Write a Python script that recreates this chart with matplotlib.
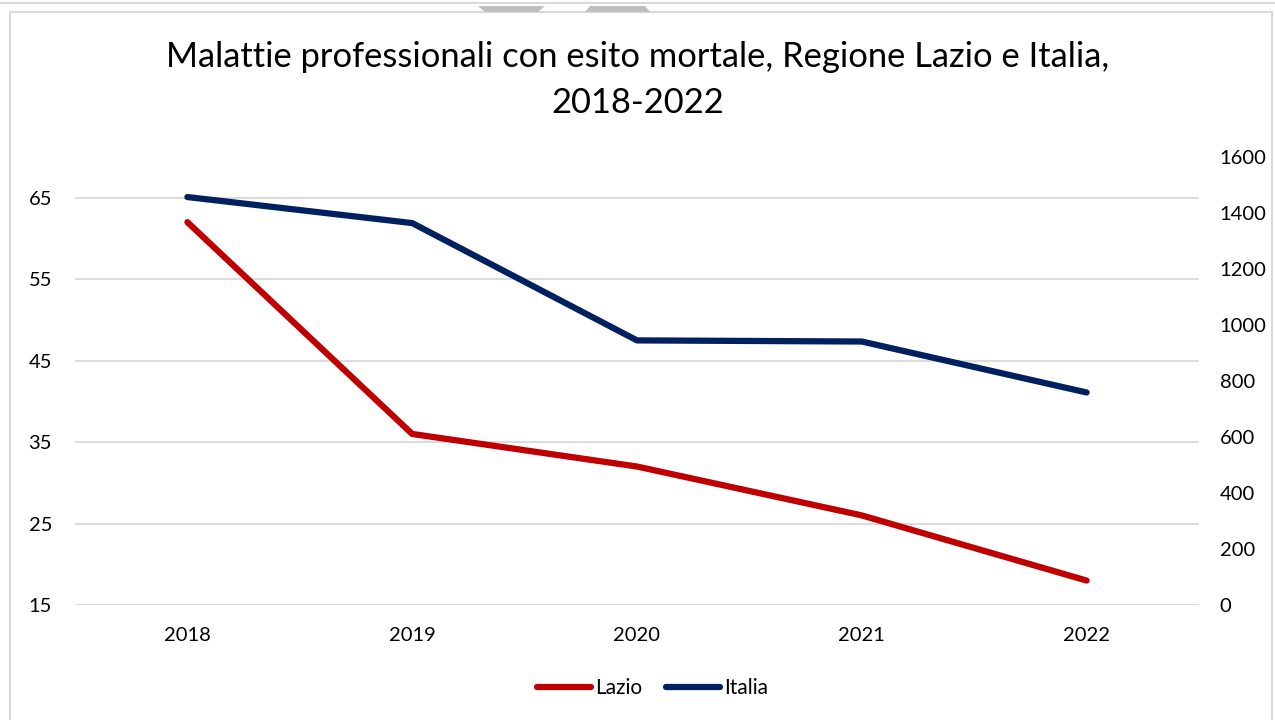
import matplotlib
matplotlib.use("Agg")
import matplotlib.pyplot as plt
from matplotlib.patches import Rectangle, Polygon
from matplotlib.lines import Line2D

years = ["2018", "2019", "2020", "2021", "2022"]
lazio = [62, 36, 32, 26, 18]
italia = [1457, 1364, 945, 941, 759]
left_ticks = [15, 25, 35, 45, 55, 65]
right_ticks = [0, 200, 400, 600, 800, 1000, 1200, 1400, 1600]

RED = "#C00000"
NAVY = "#002060"
FONT = "Lato"
plt.rcParams["font.family"] = [FONT, "DejaVu Sans"]

W, H = 1275, 720
fig = plt.figure(figsize=(W / 100, H / 100), dpi=100)

def rect(x0, y0, x1, y1):
    return [x0 / W, 1 - y1 / H, (x1 - x0) / W, (y1 - y0) / H]

# chart frame decorations
fig.patches.append(Rectangle((10 / W, -0.01), (1272 - 10) / W, 1 - 12 / H + 0.01,
                             transform=fig.transFigure, fill=False,
                             edgecolor="#D9D9D9", lw=1.5))
fig.lines.append(Line2D([0, 1], [1 - 3 / H, 1 - 3 / H], transform=fig.transFigure,
                        color="#D9D9D9", lw=1.5))
for pts in ([(478, 6), (545, 6), (538, 12), (485, 12)],
            [(585, 12), (650, 12), (645, 6), (590, 6)]):
    fig.patches.append(Polygon([(x / W, 1 - y / H) for x, y in pts],
                               transform=fig.transFigure, color="#BFBFBF", lw=0))

ax = fig.add_axes(rect(75, 157, 1199, 605))
ax2 = ax.twinx()

x = list(range(len(years)))
l1, = ax.plot(x, lazio, color=RED, lw=4.5, solid_capstyle="round",
              solid_joinstyle="round", label="Lazio", zorder=3)
l2, = ax2.plot(x, italia, color=NAVY, lw=4.5, solid_capstyle="round",
               solid_joinstyle="round", label="Italia", zorder=3)

ax.set_xlim(-0.5, len(years) - 0.5)
ax.set_ylim(15, 70)
ax2.set_ylim(0, 1600)
ax.set_yticks(left_ticks)
ax2.set_yticks(right_ticks)
ax.set_xticks(x)
ax.set_xticklabels(years)

ax.grid(axis="y", color="#D9D9D9", lw=1.3)
ax.set_axisbelow(True)
for a in (ax, ax2):
    for s in a.spines.values():
        s.set_visible(False)
    a.tick_params(length=0, labelsize=14.5, colors="#000000")
ax.tick_params(axis="y", pad=16.5)
ax2.tick_params(axis="y", pad=15)
ax.tick_params(axis="x", pad=16)

fig.text(0.5, 1 - 57 / H, "Malattie professionali con esito mortale, Regione Lazio e Italia,",
         ha="center", va="center", fontsize=24.8)
fig.text(0.5, 1 - 103 / H, "2018-2022", ha="center", va="center", fontsize=24.8)

fig.legend(handles=[l1, l2], labels=["Lazio", "Italia"], loc="center",
           bbox_to_anchor=(0.5 + 15 / W, 1 - 688 / H), ncol=2, frameon=False,
           fontsize=15, handlelength=2.6, handletextpad=0.2, columnspacing=1.1)

fig.savefig("out.png", dpi=100)
